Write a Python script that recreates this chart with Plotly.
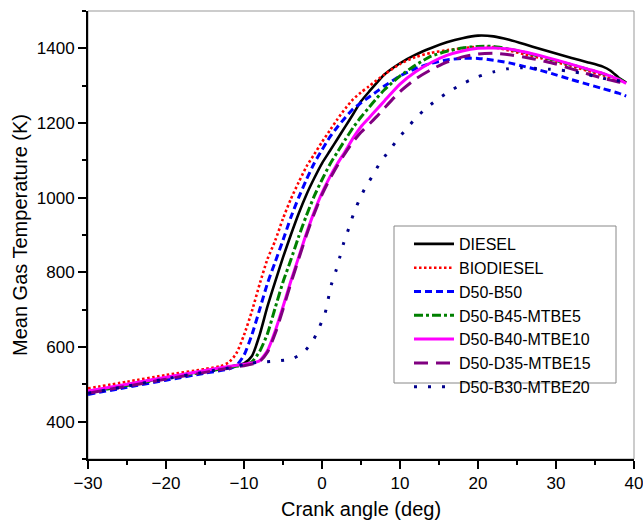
import plotly.graph_objects as go

# Crank angle (deg) / mean gas temperature (K)
DIESEL_x = [-30, -25, -20, -15, -12, -10, -9, -8, -7, -6, -5, -4, -3, -2, -1, 0, 1, 2, 3, 4, 5, 6, 8, 10,
            12, 14, 16, 18, 20, 22, 24, 26, 28, 30, 32, 34, 36, 37, 38, 39]
DIESEL_y = [480, 499, 518, 536, 547, 556, 575, 632, 708, 775, 840, 900, 957, 1008, 1052, 1092, 1125, 1158,
            1191, 1224, 1258, 1283, 1330, 1360, 1383, 1401, 1416, 1427, 1434, 1432, 1423, 1411, 1398, 1386,
            1374, 1363, 1351, 1340, 1322, 1308]

BIO_x = [-30, -25, -20, -15, -13, -12, -11, -10, -9, -8, -7, -6, -5, -4, -3, -2, -1, 0, 1, 2, 3, 4, 5, 6,
         8, 10, 12, 14, 16, 18, 20, 22, 24, 26, 28, 30, 32, 34, 36, 38, 39]
BIO_y = [489, 507, 525, 541, 549, 558, 582, 632, 695, 768, 835, 885, 944, 996, 1041, 1083, 1116, 1149, 1180,
         1211, 1239, 1264, 1282, 1298, 1330, 1358, 1377, 1388, 1395, 1400, 1404, 1403, 1394, 1384, 1374, 1363,
         1352, 1340, 1328, 1315, 1308]

B50_x = [-30, -25, -20, -15, -12, -11, -10, -9, -8, -7, -6, -5, -4, -3, -2, -1, 0, 1, 2, 3, 4, 5, 6, 7, 8,
         10, 12, 14, 16, 18, 20, 22, 24, 26, 28, 30, 32, 34, 36, 38, 39]
B50_y = [473, 492, 511, 530, 541, 550, 578, 632, 700, 770, 828, 886, 947, 1000, 1048, 1092, 1128, 1162, 1190,
         1215, 1238, 1254, 1269, 1284, 1299, 1326, 1346, 1360, 1369, 1373, 1373, 1368, 1361, 1351, 1341, 1329,
         1316, 1304, 1292, 1280, 1272]

M5_x = [-30, -25, -20, -15, -12, -10, -9, -8, -7, -6, -5, -4, -3, -2, -1, 0, 1, 2, 3, 4, 5, 6, 7, 8, 10,
        12, 14, 16, 18, 20, 22, 24, 26, 28, 30, 32, 34, 36, 38, 39]
M5_y = [478, 497, 516, 534, 545, 552, 560, 588, 635, 705, 774, 833, 895, 952, 1004, 1048, 1089, 1123, 1156,
        1188, 1216, 1241, 1266, 1289, 1326, 1355, 1379, 1392, 1401, 1405, 1405, 1398, 1389, 1378, 1367, 1356,
        1344, 1332, 1318, 1308]

M10_x = [-30, -25, -20, -15, -12, -10, -9, -8, -7, -6, -5, -4, -3, -2, -1, 0, 1, 2, 3, 4, 5, 6, 7, 8, 10,
         12, 14, 16, 18, 20, 22, 24, 26, 28, 30, 32, 34, 36, 38, 39]
M10_y = [482, 500, 519, 537, 548, 554, 557, 563, 590, 643, 708, 776, 840, 904, 962, 1013, 1055, 1092, 1125,
         1160, 1190, 1213, 1236, 1259, 1304, 1337, 1362, 1381, 1393, 1400, 1401, 1398, 1390, 1380, 1369, 1357,
         1345, 1333, 1317, 1306]

M15_x = [-30, -25, -20, -15, -12, -10, -9, -8, -7, -6, -5, -4, -3, -2, -1, 0, 1, 2, 3, 4, 5, 6, 7, 8, 10,
         12, 14, 16, 18, 20, 22, 24, 26, 28, 30, 32, 34, 36, 38, 39]
M15_y = [476, 495, 514, 532, 543, 550, 554, 561, 586, 636, 701, 770, 835, 899, 957, 1008, 1050, 1087, 1120,
         1150, 1175, 1196, 1217, 1240, 1284, 1318, 1343, 1363, 1377, 1385, 1387, 1383, 1376, 1368, 1358, 1345,
         1332, 1320, 1310, 1305]

M20_x = [-30, -25, -20, -15, -12, -10, -9, -7.5, -5.6, -3.9, -2.4, -1.1, -0.3, 0.4, 0.8, 1.2, 1.8, 2.3, 2.8,
         3.4, 4.0, 4.7, 5.5, 6.4, 7.4, 8.5, 9.8, 10.9, 12.1, 13.5, 15, 16.6, 18.3, 20, 22, 23.7, 25.6, 27.5,
         29.2, 31.2, 33.1, 35, 36.7, 38.6, 39]
M20_y = [476, 495, 515, 533, 544, 553, 557, 560, 563, 568, 585, 619, 655, 691, 729, 767, 805, 842, 880, 916,
         954, 990, 1025, 1056, 1092, 1123, 1159, 1186, 1215, 1242, 1266, 1288, 1308, 1324, 1337, 1345, 1348,
         1346, 1344, 1340, 1334, 1325, 1317, 1311, 1308]

NAMES = ["DIESEL", "BIODIESEL", "D50-B50", "D50-B45-MTBE5", "D50-B40-MTBE10", "D50-D35-MTBE15", "D50-B30-MTBE20"]
SERIES = [(DIESEL_x, DIESEL_y), (BIO_x, BIO_y), (B50_x, B50_y), (M5_x, M5_y),
          (M10_x, M10_y), (M15_x, M15_y), (M20_x, M20_y)]
STYLES = [
    dict(color="#000000", width=2.6, dash="solid"),
    dict(color="#FF0000", width=2.6, dash="2.5px,2.5px"),
    dict(color="#0000FF", width=3, dash="7px,4px"),
    dict(color="#008000", width=3, dash="9px,3px,3px,3px"),
    dict(color="#FF00FF", width=3, dash="solid"),
    dict(color="#800080", width=3, dash="14px,8px"),
    dict(color="#00008B", width=3, dash="3px,11px"),
]

FONT = "Arial, 'Liberation Sans', sans-serif"

fig = go.Figure()
for name, (xs, ys), st in zip(NAMES, SERIES, STYLES):
    fig.add_trace(go.Scatter(x=xs, y=ys, name=name, mode="lines",
                             line=dict(shape="spline", smoothing=0.6, **st)))

L, R, T, B = 88, 9, 11, 65
W, H = 643, 524
pw, ph = W - L - R, H - T - B

def px_x(p):
    return (p - L) / pw

def px_y(p):
    return (H - B - p) / ph

fig.update_layout(
    width=W, height=H,
    margin=dict(l=L, r=R, t=T, b=B),
    paper_bgcolor="white", plot_bgcolor="white",
    font=dict(family=FONT, size=17, color="black"),
    showlegend=True,
    legend=dict(x=px_x(409), y=px_y(227), xanchor="left", yanchor="top",
                bgcolor="rgba(0,0,0,0)", borderwidth=0, itemwidth=40,
                font=dict(family=FONT, size=16, color="black")),
    shapes=[
        dict(type="rect", xref="paper", yref="paper", x0=0, x1=1, y0=0, y1=1,
             line=dict(color="#999999", width=1), layer="below"),
        dict(type="rect", xref="paper", yref="paper", x0=px_x(394), x1=px_x(616),
             y0=px_y(383), y1=px_y(226), line=dict(color="#888888", width=1),
             fillcolor="white", layer="below"),
    ],
)

fig.update_xaxes(
    range=[-30, 40], dtick=10, tick0=0,
    showline=True, linecolor="black", linewidth=2, mirror=False,
    ticks="outside", ticklen=8, tickwidth=1.5, tickcolor="black",
    minor=dict(ticks="outside", ticklen=4, dtick=5, tickwidth=1.5, tickcolor="black"),
    showgrid=False, zeroline=False, ticklabeloverflow="allow", automargin=False,
    tickfont=dict(size=17),
    title=dict(text="Crank angle (deg)", font=dict(size=20), standoff=10),
)
fig.update_yaxes(
    range=[300, 1500], dtick=200, tick0=0,
    showline=True, linecolor="black", linewidth=2, mirror=False,
    ticks="outside", ticklen=8, tickwidth=1.5, tickcolor="black",
    minor=dict(ticks="outside", ticklen=4, dtick=100, tickwidth=1.5, tickcolor="black"),
    showgrid=False, zeroline=False, automargin=False,
    tickfont=dict(size=17),
    title=dict(text="Mean Gas Temperature (K)", font=dict(size=20), standoff=4),
)

fig.write_html("out.html", config={"displayModeBar": False},
               post_script="document.body.style.margin='0px';")
